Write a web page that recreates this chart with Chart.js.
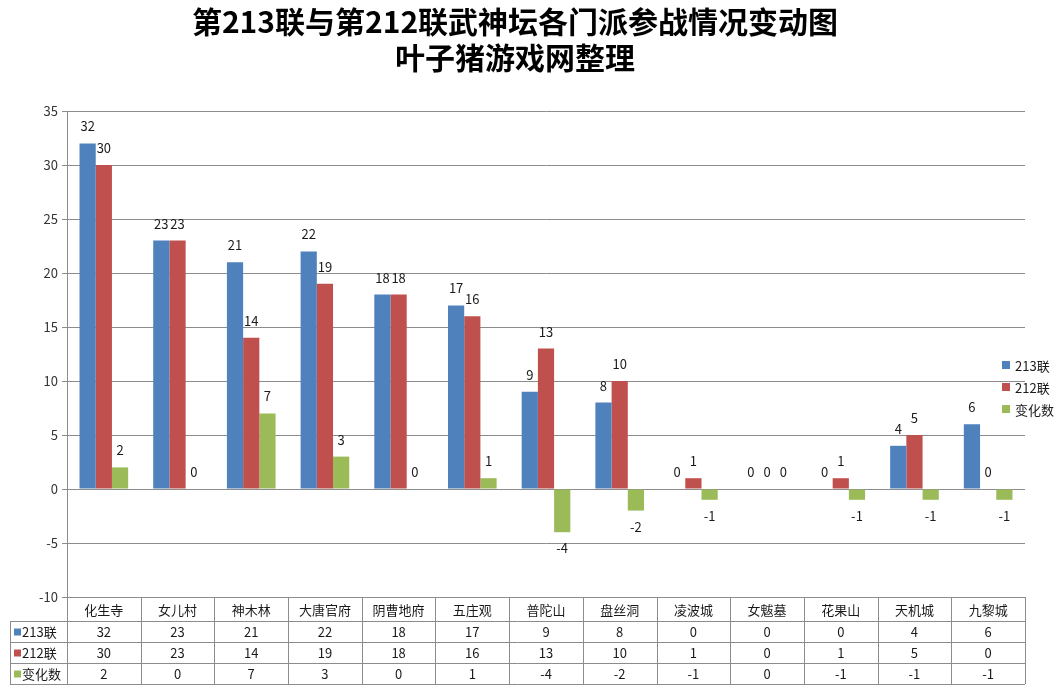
<!DOCTYPE html>
<html><head><meta charset="utf-8">
<script src="https://cdn.jsdelivr.net/npm/chart.js@4"></script>
<style>html,body{margin:0;padding:0;background:#fff}#wrap{width:1060px;height:693px;position:relative}</style>
</head><body><div id="wrap"><canvas id="c"></canvas></div>
<script>
const titleLines = ['第213联与第212联武神坛各门派参战情况变动图', '叶子猪游戏网整理'];
const categories = ['化生寺','女儿村','神木林','大唐官府','阴曹地府','五庄观','普陀山','盘丝洞','凌波城','女魃墓','花果山','天机城','九黎城'];
const seriesNames = ['213联','212联','变化数'];
const s213 = [32,23,21,22,18,17,9,8,0,0,0,4,6];
const s212 = [30,23,14,19,18,16,13,10,1,0,1,5,0];
const sChange = [2,0,7,3,0,1,-4,-2,-1,0,-1,-1,-1];
const colors = ['#4F81BD','#C0504D','#9BBB59'];
const yTicks = {min:-10, max:35, step:5};
const FONT = '"Noto Sans CJK SC","Noto Sans",sans-serif';

const extras = {
  id:'extras',
  afterDatasetsDraw(chart){
    const ctx = chart.ctx;
    ctx.save();
    ctx.font = '13px ' + FONT;
    ctx.fillStyle = '#1a1a1a';
    ctx.textAlign = 'center';
    ctx.textBaseline = 'middle';
    chart.data.datasets.forEach((ds, di) => {
      const meta = chart.getDatasetMeta(di);
      meta.data.forEach((bar, i) => {
        const v = ds.data[i];
        const y = v < 0 ? bar.y + 16 : bar.y - 17;
        ctx.fillText(String(v), bar.x, y);
      });
    });
    ctx.restore();
  },
  afterDraw(chart){
    const ctx = chart.ctx;
    const area = chart.chartArea;
    const xs = chart.scales.x;
    ctx.save();
    // title
    ctx.fillStyle = '#000';
    ctx.textAlign = 'center';
    ctx.textBaseline = 'middle';
    ctx.font = 'bold 30px ' + FONT;
    ctx.fillText(titleLines[0], 515, 22);
    ctx.fillText(titleLines[1], 515, 58);
    // legend
    ctx.font = '13px ' + FONT;
    ctx.textAlign = 'left';
    seriesNames.forEach((n, i) => {
      const y = 365 + i*22;
      ctx.fillStyle = colors[i];
      ctx.fillRect(1002, y-4, 8, 8);
      ctx.fillStyle = '#1a1a1a';
      ctx.fillText(n, 1015, y+1);
    });
    // data table
    const n = categories.length;
    const cw = (area.right - area.left) / n;
    const top = area.bottom;
    const rows = [top, top+24, top+45, top+66, top+87];
    const leftX = 10;
    ctx.strokeStyle = '#8c8c8c';
    ctx.lineWidth = 1;
    ctx.beginPath();
    ctx.moveTo(area.left, rows[0]+0.5); ctx.lineTo(area.right, rows[0]+0.5);
    for (let r = 1; r < rows.length; r++) {
      ctx.moveTo(leftX, Math.round(rows[r])+0.5); ctx.lineTo(area.right, Math.round(rows[r])+0.5);
    }
    ctx.moveTo(leftX+0.5, rows[1]); ctx.lineTo(leftX+0.5, rows[4]);
    for (let i = 0; i <= n; i++) {
      const x = Math.round(area.left + i*cw) + 0.5;
      ctx.moveTo(x, rows[0]); ctx.lineTo(x, rows[4]);
    }
    ctx.stroke();
    ctx.textAlign = 'center';
    ctx.fillStyle = '#1a1a1a';
    categories.forEach((c, i) => {
      const x = xs.getPixelForValue(i);
      ctx.fillText(c, x, (rows[0]+rows[1])/2 + 1);
    });
    const all = [s213, s212, sChange];
    all.forEach((arr, r) => {
      const yc = (rows[r+1]+rows[r+2])/2 + 1;
      arr.forEach((v, i) => {
        ctx.fillText(String(v), xs.getPixelForValue(i), yc);
      });
      ctx.textAlign = 'left';
      ctx.fillStyle = colors[r];
      ctx.fillRect(14, yc-4, 7, 7);
      ctx.fillStyle = '#1a1a1a';
      ctx.fillText(seriesNames[r], 22, yc);
      ctx.textAlign = 'center';
    });
    ctx.restore();
  }
};

new Chart(document.getElementById('c'), {
  type:'bar',
  data:{
    labels: categories,
    datasets:[
      {label:seriesNames[0], data:s213, backgroundColor:colors[0]},
      {label:seriesNames[1], data:s212, backgroundColor:colors[1]},
      {label:seriesNames[2], data:sChange, backgroundColor:colors[2]}
    ]
  },
  options:{
    responsive:true, maintainAspectRatio:false, animation:false,
    layout:{padding:{top:111, right:35, bottom:96, left:0}},
    datasets:{bar:{categoryPercentage:0.66, barPercentage:1.0}},
    plugins:{legend:{display:false}, title:{display:false}, tooltip:{enabled:false}},
    scales:{
      x:{display:false},
      y:{
        min:yTicks.min, max:yTicks.max,
        afterFit(s){ s.width = 67; },
        ticks:{stepSize:yTicks.step, color:'#333', font:{size:13, family:FONT}, padding:4},
        grid:{color:'#8c8c8c', tickLength:5, drawTicks:true},
        border:{color:'#8c8c8c'}
      }
    }
  },
  plugins:[extras]
});
</script></body></html>
